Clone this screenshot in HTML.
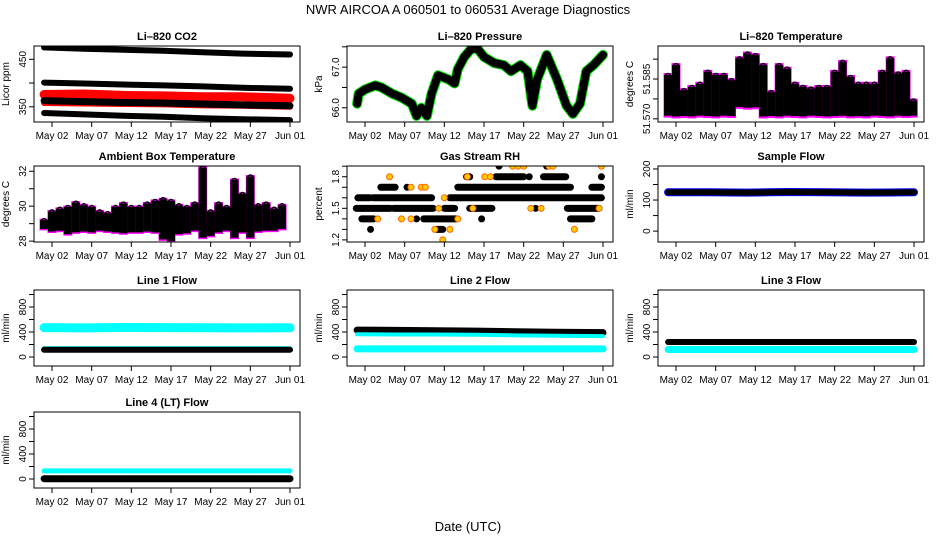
<!DOCTYPE html>
<html><head><meta charset="utf-8"><style>
html,body{margin:0;padding:0;background:#fff}
svg{display:block;font-family:"Liberation Sans",sans-serif}
</style></head><body>
<svg id="c" width="936" height="540" viewBox="0 0 936 540">
<text x="468" y="14" font-size="13" text-anchor="middle">NWR   AIRCOA A   060501 to 060531   Average Diagnostics</text>
<text x="468" y="531" font-size="13" text-anchor="middle">Date (UTC)</text>
</svg>
<script>
// ---------- data ----------
const dayTicks = [1, 6, 11, 16, 21, 26, 31];
const dayTickLabels = ["May 02", "May 07", "May 12", "May 17", "May 22", "May 27", "Jun 01"];
const bandDays = [0, 5, 10, 15, 20, 25, 31];
const co2A = [475, 472, 470, 468, 465, 462, 460];
const co2B = [401, 399, 397, 395, 393, 390, 388];
const co2Red = [376, 377, 374, 373, 371, 371, 368];
const co2Red2 = [358, 357, 356, 355, 353, 352, 350];
const co2C = [363, 361, 359, 358, 356, 354, 352];
const co2D = [337, 334, 331, 329, 326, 324, 322];
const presDays = [0, 0.2, 1.0, 2.3, 3.1, 4.4, 5.6, 6.9, 7.5, 8.1, 8.8, 9.4, 10.2, 11.5, 12.3, 12.7, 13.5, 14.4, 15.2, 16.0, 17.3, 18.5, 19.4, 20.6, 21.5, 22.1, 22.7, 23.9, 25.2, 26.4, 27.2, 28.1, 28.9, 29.8, 31.0];
const presVals = [66.1, 66.35, 66.45, 66.55, 66.5, 66.35, 66.25, 66.1, 65.8, 66.0, 65.8, 66.35, 66.8, 66.7, 66.6, 66.95, 67.25, 67.45, 67.45, 67.25, 67.1, 67.05, 66.9, 67.05, 66.9, 66.05, 66.7, 67.3, 66.7, 66.05, 65.85, 66.1, 66.9, 67.05, 67.3];
const tempDays = [0,1,2,3,4,5,6,7,8,9,10,11,12,13,14,15,16,17,18,19,20,21,22,23,24,25,26,27,28,29,30,30.9];
const tempMax = [51.5810,51.5835,51.5772,51.5780,51.5788,51.5818,51.5810,51.5810,51.5797,51.5852,51.5864,51.5860,51.5835,51.5767,51.5835,51.5826,51.5788,51.5780,51.5776,51.5780,51.5780,51.5818,51.5843,51.5805,51.5788,51.5788,51.5788,51.5818,51.5852,51.5814,51.5818,51.5746];
const tempMin = [51.5708,51.5706,51.5707,51.5706,51.5708,51.5707,51.5706,51.5708,51.5707,51.5730,51.5728,51.5729,51.5706,51.5707,51.5706,51.5708,51.5707,51.5706,51.5708,51.5707,51.5706,51.5707,51.5708,51.5706,51.5707,51.5706,51.5708,51.5707,51.5706,51.5708,51.5707,51.5708];
const ambDays = [0,1,2,3,4,5,6,7,8,9,10,11,12,13,14,15,16,17,18,19,20,21,22,23,24,25,26,27,28,29,30];
const ambMax = [29.2,29.7,29.85,29.95,30.2,30.05,29.95,29.7,29.6,29.95,30.15,29.95,29.95,30.15,30.3,30.4,30.3,30.05,29.95,30.15,32.2,29.7,30.15,29.95,31.5,30.7,31.7,30.05,30.15,29.85,30.05];
const ambMin = [28.7,28.55,28.6,28.4,28.5,28.55,28.5,28.6,28.55,28.5,28.45,28.5,28.5,28.55,28.5,28.1,28.0,28.4,28.45,28.6,28.2,28.3,28.5,28.6,28.2,28.5,28.2,28.55,28.6,28.6,28.7];
const rhRuns = [[17.9,17.9,1.9],[23.9,23.9,1.9],[13.8,14.2,1.8],[17.5,21.0,1.8],[21.7,21.7,1.8],[23.5,26.3,1.8],[30.8,30.8,1.8],[3.0,4.8,1.7],[6.3,6.3,1.7],[12.7,26.9,1.7],[29.6,30.8,1.7],[0.1,1.6,1.6],[2.0,9.4,1.6],[11.7,30.8,1.6],[-0.1,4.2,1.5],[4.6,9.6,1.5],[11.0,12.3,1.5],[14.2,17.0,1.5],[22.5,22.5,1.5],[26.5,30.5,1.5],[0.6,2.1,1.4],[7.5,7.5,1.4],[8.4,12.5,1.4],[15.7,15.7,1.4],[26.9,29.6,1.4],[1.7,1.7,1.3],[10.0,10.8,1.3]];
const rhYellowDays = [19.6,20.3,21.0,24.2,24.7,30.8,4.1,13.9,16.1,16.8,6.8,8.1,8.6,11.0,10.3,14.6,21.9,23.2,30.5,2.6,5.6,6.8,12.7,9.8,11.7,27.4,10.8];
const rhYellowVals = [1.9,1.9,1.9,1.9,1.9,1.9,1.8,1.8,1.8,1.8,1.7,1.7,1.7,1.6,1.5,1.5,1.5,1.5,1.5,1.4,1.4,1.4,1.4,1.3,1.3,1.3,1.2];
const sampleFlow = [125, 125, 124, 126, 125, 124, 125];
const line1Cyan = [470, 465, 472, 470, 468, 466, 468];
const line1CyanLow = [150, 150, 150, 150, 150, 150, 150];
const line1Black = [115, 115, 115, 115, 115, 115, 115];
const line2Black = [430, 425, 420, 415, 405, 395, 390];
const line2Cyan = [365, 360, 360, 355, 345, 340, 335];
const line2CyanLow = [130, 130, 130, 130, 130, 130, 130];
const line3Black = [240, 240, 240, 240, 240, 240, 240];
const line3Cyan = [120, 120, 120, 120, 120, 120, 120];
const line4Cyan = [130, 130, 130, 130, 130, 130, 130];
const line4Black = [5, 5, 5, 5, 5, 5, 5];

// ---------- layout ----------
const NS = "http://www.w3.org/2000/svg";
const svg = document.getElementById("c");
const colX = [34, 347, 658], rowY = [46, 166, 290, 412], BW = 266, BH = 76;
function mk(tag, attrs, parent) {
  const e = document.createElementNS(NS, tag);
  for (const k in attrs) e.setAttribute(k, attrs[k]);
  (parent || svg).appendChild(e);
  return e;
}
function panel(col, row, title, ylab, ymin, ymax, ticks, labels, key) {
  const x0 = colX[col], y0 = rowY[row];
  const g = mk("g", {});
  
  
  const X = d => x0 + 18 + (d - 1) * (238 / 30);
  const Y = v => y0 + BH - (v - ymin) / (ymax - ymin) * BH;
  const cid = "clip-" + key;
  const cp = mk("clipPath", { id: cid }, g);
  mk("rect", { x: x0, y: y0, width: BW, height: BH }, cp);
  const plot = mk("g", { "clip-path": "url(#" + cid + ")" }, g);
  
  
  const box = mk("rect", { x: x0, y: y0, width: BW, height: BH, fill: "none", stroke: "#000", "stroke-width": 1 }, g);
  
  
  const t = mk("text", { x: x0 + BW / 2, y: y0 - 6, "font-size": 11, "font-weight": "bold", "text-anchor": "middle" }, g);
  t.textContent = title;
  
  
  const yl = mk("text", { transform: "translate(" + (x0 - 25) + "," + (y0 + BH / 2) + ") rotate(-90)", "font-size": 10, "text-anchor": "middle" }, g);
  yl.textContent = ylab;
  
  
  dayTicks.forEach((d, i) => {
    mk("line", { x1: X(d), x2: X(d), y1: y0 + BH, y2: y0 + BH + 5, stroke: "#000" }, g);
    const tl = mk("text", { x: X(d), y: y0 + BH + 17, "font-size": 10, "text-anchor": "middle" }, g);
    tl.textContent = dayTickLabels[i];
    
    
  });
  ticks.forEach((v, i) => {
    mk("line", { x1: x0 - 5, x2: x0, y1: Y(v), y2: Y(v), stroke: "#000" }, g);
    if (labels[i] !== "") {
      const tl = mk("text", { transform: "translate(" + (x0 - 8) + "," + Y(v) + ") rotate(-90)", "font-size": 10, "text-anchor": "middle" }, g);
      tl.textContent = labels[i];
      
      
    }
  });
  return { X, Y, plot };
}
function band(p, xs, ys, color, w, name) {
  const pts = xs.map((d, i) => p.X(d).toFixed(1) + "," + p.Y(ys[i]).toFixed(1)).join(" ");
  const e = mk("polyline", { points: pts, fill: "none", stroke: color, "stroke-width": w, "stroke-linecap": "round", "stroke-linejoin": "round" }, p.plot);
  
  
}
function bars(p, xs, mins, maxs, pad, name) {
  xs.forEach((d, i) => {
    const m = mk("rect", { x: p.X(d) - 4.5, width: 9, y: p.Y(maxs[i]) - pad, height: p.Y(mins[i]) - p.Y(maxs[i]) + 2 * pad, fill: "#ff00ff" }, p.plot);
    
    
  });
  xs.forEach((d, i) => {
    const b = mk("rect", { x: p.X(d) - 4, width: 8, y: p.Y(maxs[i]), height: p.Y(mins[i]) - p.Y(maxs[i]), fill: "#000" }, p.plot);
    
    
    const c = mk("circle", { cx: p.X(d), cy: p.Y(maxs[i]) + 1, r: 2.5, fill: "none", stroke: "#000", "stroke-width": 1.5 }, p.plot);
    
    
  });
}

let p = panel(0, 0, "Li–820 CO2", "Licor ppm", 318, 478, [350, 400, 450], ["350", "", "450"], "co2");
band(p, bandDays, co2A, "#000", 6, "co2-series-a");
band(p, bandDays, co2B, "#000", 6, "co2-series-b");
band(p, bandDays, co2Red2, "#ff0000", 6, "co2-red-low");
band(p, bandDays, co2Red, "#ff0000", 9, "co2-red");
band(p, bandDays, co2C, "#000", 7, "co2-series-c");
band(p, bandDays, co2D, "#000", 6, "co2-series-d");

p = panel(1, 0, "Li–820 Pressure", "kPa", 65.65, 67.52, [66.0, 66.5, 67.0, 67.5], ["66.0", "", "67.0", ""], "pressure");
band(p, presDays, presVals, "#00dd00", 10, "pressure-green");
band(p, presDays, presVals, "#000", 8, "pressure-line");

p = panel(2, 0, "Li–820 Temperature", "degrees C", 51.5692, 51.5883, [51.570, 51.575, 51.580, 51.585], ["51.570", "", "51.585", ""], "li820-temp");
bars(p, tempDays, tempMin, tempMax, 2, "li820-temp");

p = panel(0, 1, "Ambient Box Temperature", "degrees C", 27.95, 32.3, [28, 29, 30, 31, 32], ["28", "", "30", "", "32"], "ambient");
bars(p, ambDays, ambMin, ambMax, 1.5, "ambient");

p = panel(1, 1, "Gas Stream RH", "percent", 1.18, 1.902, [1.2, 1.3, 1.4, 1.5, 1.6, 1.7, 1.8, 1.9], ["1.2", "", "", "1.5", "", "", "1.8", ""], "rh");
rhRuns.forEach(r => {
  const e = mk("line", { x1: p.X(r[0]), x2: p.X(r[1]), y1: p.Y(r[2]), y2: p.Y(r[2]), stroke: "#000", "stroke-width": 7, "stroke-linecap": "round" }, p.plot);
  
  
});
rhYellowDays.forEach((d, i) => {
  const e = mk("circle", { cx: p.X(d), cy: p.Y(rhYellowVals[i]), r: 3, fill: "#ffcc00", stroke: "#ff6600", "stroke-width": 1 }, p.plot);
  
  
});

p = panel(2, 1, "Sample Flow", "ml/min", -35, 209.5, [0, 50, 100, 150, 200], ["0", "", "100", "", "200"], "sample-flow");
band(p, bandDays, sampleFlow, "#0000ff", 8, "sample-flow-blue");
band(p, bandDays, sampleFlow, "#000", 6, "sample-flow-line");

const flowTicks = [0, 200, 400, 600, 800, 1000], flowLabels = ["0", "", "400", "", "800", ""];
p = panel(0, 2, "Line 1 Flow", "ml/min", -144, 1072, flowTicks, flowLabels, "line1");
band(p, bandDays, line1Cyan, "#00ffff", 9, "line1-cyan");
band(p, bandDays, line1CyanLow, "#00ffff", 3, "line1-cyan-low");
band(p, bandDays, line1Black, "#000", 6, "line1-black");

p = panel(1, 2, "Line 2 Flow", "ml/min", -144, 1072, flowTicks, flowLabels, "line2");
band(p, bandDays, line2Black, "#000", 7, "line2-black");
band(p, bandDays, line2Cyan, "#00ffff", 4, "line2-cyan");
band(p, bandDays, line2CyanLow, "#00ffff", 7, "line2-cyan-low");

p = panel(2, 2, "Line 3 Flow", "ml/min", -144, 1072, flowTicks, flowLabels, "line3");
band(p, bandDays, line3Black, "#000", 6, "line3-black");
band(p, bandDays, line3Cyan, "#00ffff", 7, "line3-cyan");

p = panel(0, 3, "Line 4 (LT) Flow", "ml/min", -144, 1072, flowTicks, flowLabels, "line4");
band(p, bandDays, line4Cyan, "#00ffff", 5, "line4-cyan");
band(p, bandDays, line4Black, "#000", 7, "line4-black");
</script>
</body></html>
